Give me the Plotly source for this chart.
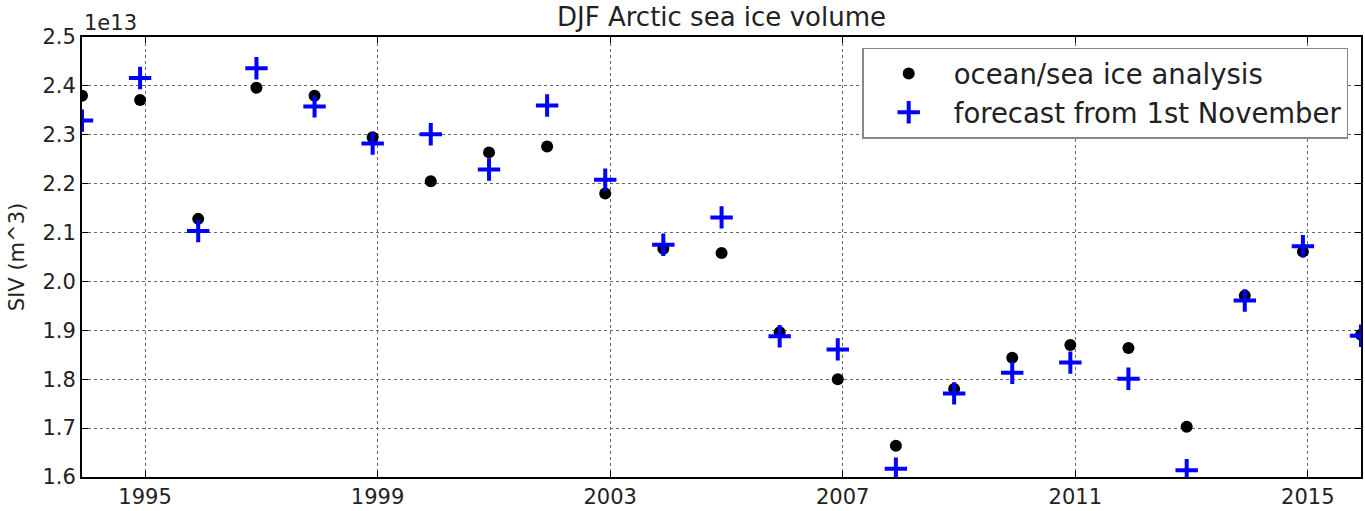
import plotly.graph_objects as go

# DJF seasons, plotted at 1 December of the starting year
dates = ["1993-12-01", "1994-12-01", "1995-12-01", "1996-12-01", "1997-12-01",
         "1998-12-01", "1999-12-01", "2000-12-01", "2001-12-01", "2002-12-01",
         "2003-12-01", "2004-12-01", "2005-12-01", "2006-12-01", "2007-12-01",
         "2008-12-01", "2009-12-01", "2010-12-01", "2011-12-01", "2012-12-01",
         "2013-12-01", "2014-12-01", "2015-12-01"]

analysis = [2.380, 2.371, 2.128, 2.396, 2.380, 2.295, 2.205, 2.264, 2.276, 2.180,
            2.067, 2.058, 1.896, 1.800, 1.664, 1.780, 1.844, 1.870, 1.864, 1.703,
            1.971, 2.061, 1.891]
forecast = [2.329, 2.416, 2.103, 2.436, 2.358, 2.282, 2.301, 2.229, 2.360, 2.208,
            2.075, 2.131, 1.888, 1.861, 1.617, 1.771, 1.813, 1.834, 1.801, 1.614,
            1.961, 2.072, 1.889]
scale = 1e13

y_tick_labels = ["1.6", "1.7", "1.8", "1.9", "2.0", "2.1", "2.2", "2.3", "2.4", "2.5"]
x_tick_labels = ["1995", "1999", "2003", "2007", "2011", "2015"]

y_tick_vals = [float(t) * scale for t in y_tick_labels]
x_tick_vals = [t + "-01-01" for t in x_tick_labels]

FONT = "DejaVu Sans"

fig = go.Figure()
fig.add_trace(go.Scatter(
    x=dates, y=[v * scale for v in analysis], mode="markers",
    name="ocean/sea ice analysis", legendgroup="a",
    marker=dict(symbol="circle", size=12, color="black", line=dict(width=0)),
))
fig.add_trace(go.Scatter(
    x=dates, y=[v * scale for v in forecast], mode="markers",
    name="forecast from 1st November", legendgroup="b",
    marker=dict(symbol="cross-thin", size=16, color="blue",
                line=dict(width=4, color="blue")),
))

axis_common = dict(
    showline=True, linecolor="black", linewidth=2, mirror="allticks",
    ticks="inside", ticklen=6, tickwidth=1, tickcolor="black",
    showgrid=True, gridcolor="#666666", griddash="dot", gridwidth=1,
    zeroline=False, tickfont=dict(family=FONT, size=21, color="#222222"),
)

fig.update_xaxes(type="date", range=[dates[0], dates[-1]],
                 tickvals=x_tick_vals, ticktext=x_tick_labels, **axis_common)
fig.update_yaxes(range=[y_tick_vals[0], y_tick_vals[-1]],
                 tickvals=y_tick_vals, ticktext=y_tick_labels,
                 title=dict(text="SIV (m^3)", font=dict(family=FONT, size=21, color="#222222"),
                            standoff=12),
                 **axis_common)

fig.update_layout(
    width=1365, height=511,
    margin=dict(l=82, r=2, t=37, b=33),
    paper_bgcolor="white", plot_bgcolor="white",
    title=dict(text="DJF Arctic sea ice volume", x=0.5, xref="paper",
               y=1 - 17 / 511, yref="container", yanchor="middle", xanchor="center",
               font=dict(family=FONT, size=26, color="#222222")),
    legend=dict(x=0.990, y=0.976, xanchor="right", yanchor="top",
                bgcolor="white", bordercolor="#888888", borderwidth=1.5,
                font=dict(family=FONT, size=27.5, color="#222222"),
                traceorder="normal", tracegroupgap=3, itemwidth=80),
    annotations=[dict(text="1e13", x=0, y=1, xref="paper", yref="paper",
                      xanchor="left", yanchor="bottom", showarrow=False, yshift=0,
                      font=dict(family=FONT, size=21, color="#222222"))],
    showlegend=True,
)

fig.write_html("out.html")
